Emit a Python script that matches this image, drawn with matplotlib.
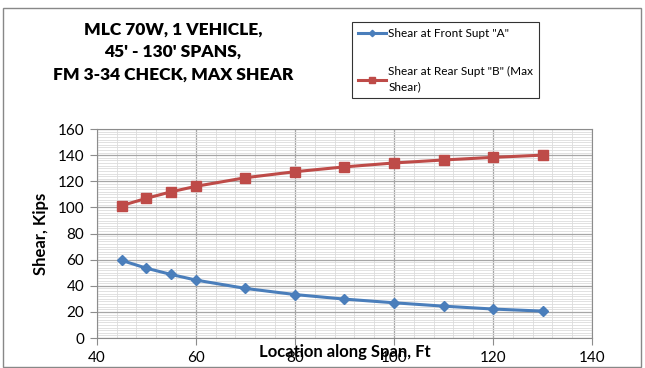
import matplotlib.pyplot as plt
from matplotlib.patches import Rectangle
from matplotlib.ticker import MultipleLocator

# data
span_ft = [45, 50, 55, 60, 70, 80, 90, 100, 110, 120, 130]
shear_front = [59.5, 53.5, 48.7, 44.4, 38.0, 33.3, 29.8, 27.0, 24.4, 22.2, 20.6]
shear_rear = [101.4, 107.0, 112.0, 116.2, 122.8, 127.4, 131.1, 134.1, 136.4, 138.4, 140.1]

title = "MLC 70W, 1 VEHICLE,\n45' - 130' SPANS,\nFM 3-34 CHECK, MAX SHEAR"

plt.rcParams['font.family'] = ['Lato', 'DejaVu Sans']

fig = plt.figure(figsize=(6.45, 3.68), dpi=100)
ax = fig.add_axes([0.150, 0.0815, 0.768, 0.5675])

ax.plot(span_ft, shear_front, color='#4a7ebb', lw=2.2, marker='D', ms=5,
        label='Shear at Front Supt "A"')
ax.plot(span_ft, shear_rear, color='#be4b48', lw=2.2, marker='s', ms=7,
        label='Shear at Rear Supt "B" (Max\nShear)')

ax.set_xlim(40, 140)
ax.set_ylim(0, 160)
ax.xaxis.set_major_locator(MultipleLocator(20))
ax.xaxis.set_minor_locator(MultipleLocator(4))
ax.yaxis.set_major_locator(MultipleLocator(20))
ax.yaxis.set_minor_locator(MultipleLocator(2))
ax.grid(which='major', color='#a6a6a6', lw=0.9)
ax.grid(which='minor', color='#dcdcdc', lw=0.6)
ax.set_axisbelow(True)
for s in ax.spines.values():
    s.set_color('#8c8c8c')
ax.tick_params(which='major', length=5, color='#8c8c8c', labelsize=11, pad=4)
ax.tick_params(which='minor', length=0)

# the axis title sits on top of the tick labels, as in the original
ax.set_xlabel('Location along Span, Ft', fontsize=12, fontweight='bold', labelpad=-15)
ax.set_ylabel('Shear, Kips', fontsize=12, fontweight='bold', labelpad=6)

fig.text(0.268, 0.859, title, ha='center', va='center', fontsize=12.5,
         fontweight='heavy', linespacing=1.5)

leg = ax.legend(loc='upper left', bbox_to_anchor=(0.546, 0.94), bbox_transform=fig.transFigure,
                borderaxespad=0, frameon=True, fancybox=False, fontsize=8.5,
                handlelength=2.4, handletextpad=0.15, labelspacing=2.3, borderpad=0.5,
                markerscale=0.65)
leg.get_frame().set_edgecolor('black')
leg.get_frame().set_linewidth(0.8)
leg.get_texts()[1].set_linespacing(1.45)

fig.patches.append(Rectangle((0.004, 0.004), 0.99, 0.975, transform=fig.transFigure,
                             fill=False, edgecolor='#888888', lw=1.0))

fig.savefig('out.png', dpi=100)
